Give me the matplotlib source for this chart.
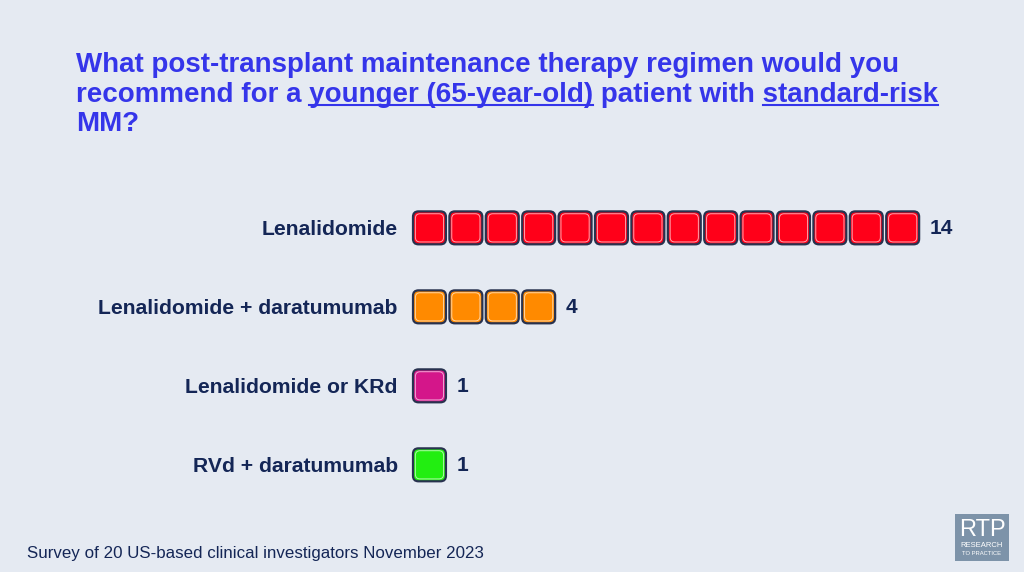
import matplotlib.pyplot as plt
from matplotlib.patches import FancyBboxPatch
import numpy as np

# --- DATA ---
categories = ["Lenalidomide", "Lenalidomide + daratumumab", "Lenalidomide or KRd", "RVd + daratumumab"]
counts = [14, 4, 1, 1]
colors = ["#ff0019", "#ff8a00", "#d4168a", "#22ee11"]

title_line1 = "What post-transplant maintenance therapy regimen would you"
title_line2 = ["recommend for a ", "younger (65-year-old)", " patient with ", "standard-risk"]
title_line3 = "MM?"
footer = "Survey of 20 US-based clinical investigators November 2023"

# --- STYLE ---
BG = "#e5eaf2"
NAVY = "#142656"
BLUE = "#3535ea"
W, H = 1024, 572
plt.rcParams['font.family'] = ['Liberation Sans', 'DejaVu Sans']

fig = plt.figure(figsize=(W / 100, H / 100), dpi=100, facecolor=BG)

def fx(px): return px / W
def fy(py): return 1 - py / H

# --- TITLE ---
tsize = 20
x0 = 76
fig.text(fx(x0), fy(72), title_line1, fontsize=tsize, fontweight='bold', color=BLUE, va='baseline')
fig.text(fx(x0), fy(131), title_line3, fontsize=tsize, fontweight='bold', color=BLUE, va='baseline')

renderer = fig.canvas.get_renderer()
def text_w(s):
    t = fig.text(0, 0, s, fontsize=tsize, fontweight='bold')
    w = t.get_window_extent(renderer).width
    t.remove()
    return w

# line 2 with underlined pieces
full2 = "".join(title_line2)
fig.text(fx(x0), fy(101.5), full2, fontsize=tsize, fontweight='bold', color=BLUE, va='baseline')
prefix = ""
for i, piece in enumerate(title_line2):
    if i in (1, 3):
        end = text_w(prefix + piece)
        start = end - text_w(piece)
        fig.add_artist(plt.Line2D([fx(x0 + start), fx(x0 + end)], [fy(105), fy(105)],
                                  color=BLUE, lw=1.5, transform=fig.transFigure))
    prefix += piece

# --- SQUARES ---
pitch = 36.4                       # px per unit
ax_l, ax_r, ax_t, ax_b = 400, 965, 190, 500
ax = fig.add_axes([fx(ax_l), fy(ax_b), fx(ax_r - ax_l), (ax_b - ax_t) / H])
ax.set_facecolor('none')
ax.set_xlim((ax_l - 413) / pitch, (ax_r - 413) / pitch)
ax.set_ylim((ax_b - ax_t) / pitch, 0)
ax.axis('off')

rows = 1.04 + np.arange(len(categories)) * 2.17
side = 0.905
rad = 0.15
for y, cat, n, c in zip(rows, categories, counts, colors):
    for i in range(n):
        ax.add_patch(FancyBboxPatch((i + rad, y - side / 2 + rad), side - 2 * rad, side - 2 * rad,
                                    boxstyle=f"round,pad={rad}", facecolor=c,
                                    edgecolor='#28324f', lw=1.6))
        inset = 0.045
        ax.add_patch(FancyBboxPatch((i + rad + inset, y - side / 2 + rad + inset),
                                    side - 2 * rad - 2 * inset, side - 2 * rad - 2 * inset,
                                    boxstyle=f"round,pad={rad - 0.02}", facecolor='none',
                                    edgecolor='white', lw=0.7, alpha=0.65))
    ax.text(n + 0.2, y + 0.03, str(n), fontsize=15, fontweight='bold',
            color=NAVY, ha='left', va='center')
    ax.text(-0.42, y, cat, fontsize=15.2, fontweight='bold', color=NAVY, ha='right',
            va='center_baseline')

# --- FOOTER ---
fig.text(fx(27), fy(558), footer, fontsize=12.2, color=NAVY, va='baseline')

# --- LOGO ---
logo = fig.add_axes([fx(955), fy(561), fx(54), 47 / H])
logo.set_facecolor('#7d93a9')
logo.set_xticks([]); logo.set_yticks([])
for s in logo.spines.values():
    s.set_visible(False)
logo.text(0.5, 0.66, "RTP", color='white', fontsize=17, ha='center', va='center', transform=logo.transAxes)
logo.text(0.5, 0.32, "RESEARCH", color='white', fontsize=5.5, ha='center', va='center', transform=logo.transAxes)
logo.text(0.5, 0.15, "TO PRACTICE", color='white', fontsize=4.2, ha='center', va='center', transform=logo.transAxes)

fig.savefig("out.png", dpi=100, facecolor=BG)
